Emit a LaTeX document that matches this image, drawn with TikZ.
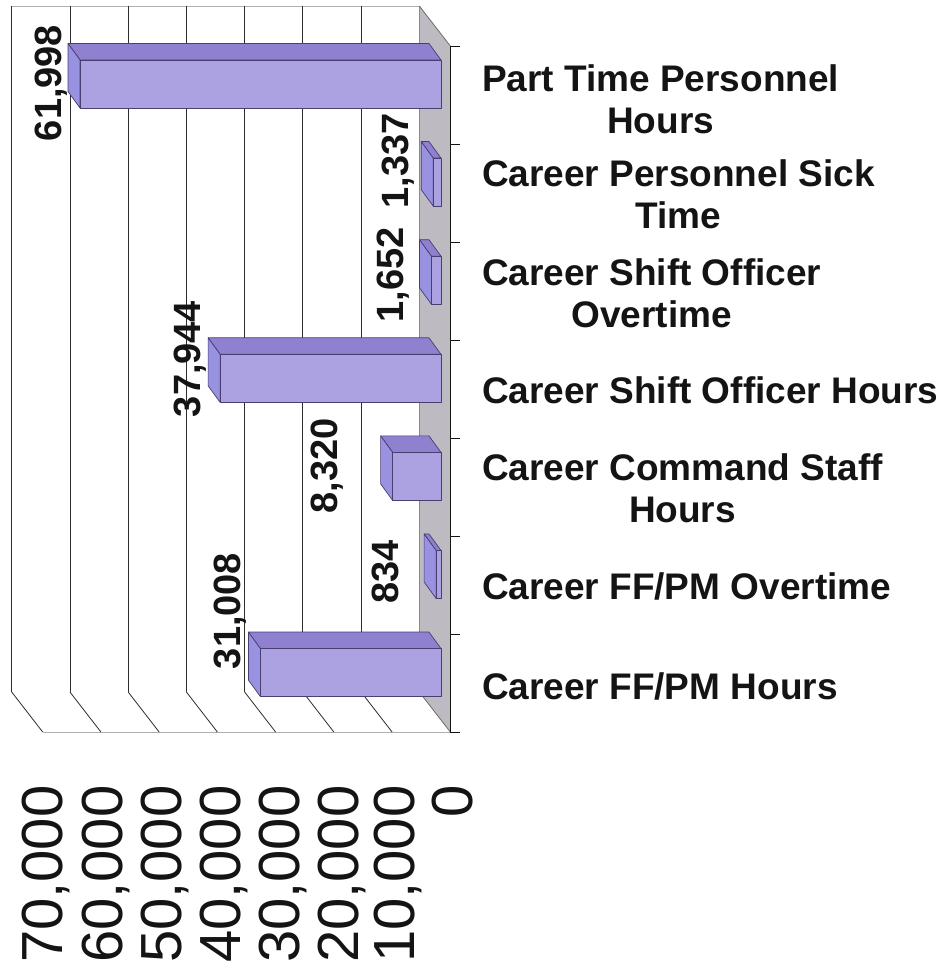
\documentclass[tikz,border=0pt]{standalone}
\usepackage{fontspec}
\setmainfont{Liberation Sans}
\begin{document}
\begin{tikzpicture}[x=1pt,y=1pt,
  gridline/.style={draw=gridColor,line width=0.8pt,line join=round},
  walledge/.style={draw=edgeColor,line width=0.8pt,line join=round},
  barfront/.style={draw=barLine,line width=0.7pt,line join=round,fill=frontColor},
  bartop/.style={draw=barLine,line width=0.7pt,line join=round,fill=topColor},
  barend/.style={draw=barLine,line width=0.7pt,line join=round,fill=endColor},
  vallabel/.style={text=drawColor,rotate=90,anchor=base,inner sep=0pt,outer sep=0pt,font=\fontsize{38}{38}\selectfont\bfseries},
  ticklabel/.style={text=drawColor,rotate=90,anchor=base east,inner sep=0pt,outer sep=0pt,font=\fontsize{58}{58}\selectfont},
  catlabel/.style={text=drawColor,anchor=west,align=center,inner sep=0pt,outer sep=0pt,font=\fontsize{37}{42}\selectfont\bfseries}]
\definecolor{fillColor}{RGB}{255,255,255}
\definecolor{drawColor}{RGB}{20,20,20}
\definecolor{gridColor}{RGB}{45,45,45}
\definecolor{edgeColor}{RGB}{175,175,178}
\definecolor{floorColor}{RGB}{190,186,193}
\definecolor{frontColor}{RGB}{172,162,226}
\definecolor{topColor}{RGB}{143,128,208}
\definecolor{endColor}{RGB}{152,146,224}
\definecolor{barLine}{RGB}{72,62,112}
\path[use as bounding box,fill=fillColor] (0,0) rectangle (951,972);
\begin{scope}
% back wall
\path[fill=fillColor] ( 11.69,280.00) rectangle (419.30,966.00);
\path[walledge] ( 11.69,966.00) -- (419.30,966.00);
\path[walledge] ( 11.69,280.00) -- (419.30,280.00);

\path[gridline] ( 11.69,280.00) -- ( 11.69,966.00);

\path[gridline] ( 69.92,280.00) -- ( 69.92,966.00);

\path[gridline] (128.15,280.00) -- (128.15,966.00);

\path[gridline] (186.38,280.00) -- (186.38,966.00);

\path[gridline] (244.61,280.00) -- (244.61,966.00);

\path[gridline] (302.84,280.00) -- (302.84,966.00);

\path[gridline] (361.07,280.00) -- (361.07,966.00);

\path[gridline] (419.30,280.00) -- (419.30,966.00);
\end{scope}
\begin{scope}
% floor
\path[fill=floorColor] (419.30,966.00) -- (450.30,926.00) -- (450.30,240.00) -- (419.30,280.00) -- cycle;
\path[draw=gridColor!70,line width=0.8pt] (419.30,966.00) -- (450.30,926.00);
\path[draw=gridColor!70,line width=0.8pt] (419.30,280.00) -- (450.30,240.00);

% side wall
\path[fill=fillColor] ( 11.69,280.00) -- ( 42.69,240.00) -- (419.30,240.00) -- (419.30,280.00) -- cycle;
\path[walledge] ( 42.69,240.00) -- (450.30,240.00);

\path[gridline] ( 11.69,280.00) -- ( 42.69,240.00);

\path[gridline] ( 69.92,280.00) -- (100.92,240.00);

\path[gridline] (128.15,280.00) -- (159.15,240.00);

\path[gridline] (186.38,280.00) -- (217.38,240.00);

\path[gridline] (244.61,280.00) -- (275.61,240.00);

\path[gridline] (302.84,280.00) -- (333.84,240.00);

\path[gridline] (361.07,280.00) -- (392.07,240.00);
\end{scope}
\begin{scope}
% bars
\path[bartop] ( 80.00,912.00) -- (441.00,912.00) -- (429.00,928.50) -- ( 68.00,928.50) -- cycle;
\path[barend] ( 80.00,912.00) -- ( 68.00,928.50) -- ( 68.00,880.50) -- ( 80.00,864.00) -- cycle;
\path[barfront] ( 80.00,864.00) rectangle (441.00,912.00);

\path[bartop] (433.20,813.90) -- (441.00,813.90) -- (429.00,830.40) -- (421.20,830.40) -- cycle;
\path[barend] (433.20,813.90) -- (421.20,830.40) -- (421.20,782.40) -- (433.20,765.90) -- cycle;
\path[barfront] (433.20,765.90) rectangle (441.00,813.90);

\path[bartop] (431.40,715.80) -- (441.00,715.80) -- (429.00,732.30) -- (419.40,732.30) -- cycle;
\path[barend] (431.40,715.80) -- (419.40,732.30) -- (419.40,684.30) -- (431.40,667.80) -- cycle;
\path[barfront] (431.40,667.80) rectangle (441.00,715.80);

\path[bartop] (220.10,617.70) -- (441.00,617.70) -- (429.00,634.20) -- (208.10,634.20) -- cycle;
\path[barend] (220.10,617.70) -- (208.10,634.20) -- (208.10,586.20) -- (220.10,569.70) -- cycle;
\path[barfront] (220.10,569.70) rectangle (441.00,617.70);

\path[bartop] (392.60,519.60) -- (441.00,519.60) -- (429.00,536.10) -- (380.60,536.10) -- cycle;
\path[barend] (392.60,519.60) -- (380.60,536.10) -- (380.60,488.10) -- (392.60,471.60) -- cycle;
\path[barfront] (392.60,471.60) rectangle (441.00,519.60);

\path[bartop] (436.10,421.50) -- (441.00,421.50) -- (429.00,438.00) -- (424.10,438.00) -- cycle;
\path[barend] (436.10,421.50) -- (424.10,438.00) -- (424.10,390.00) -- (436.10,373.50) -- cycle;
\path[barfront] (436.10,373.50) rectangle (441.00,421.50);

\path[bartop] (260.40,323.40) -- (441.00,323.40) -- (429.00,339.90) -- (248.40,339.90) -- cycle;
\path[barend] (260.40,323.40) -- (248.40,339.90) -- (248.40,291.90) -- (260.40,275.40) -- cycle;
\path[barfront] (260.40,275.40) rectangle (441.00,323.40);
\end{scope}
\begin{scope}
% category axis
\path[draw=drawColor,line width=1.6pt] (450.50,926.00) -- (450.50,239.00);

\path[draw=drawColor,line width=0.8pt] (450.50,926.00) -- (459.50,926.00);

\path[draw=drawColor,line width=0.8pt] (450.50,827.90) -- (459.50,827.90);

\path[draw=drawColor,line width=0.8pt] (450.50,729.80) -- (459.50,729.80);

\path[draw=drawColor,line width=0.8pt] (450.50,631.70) -- (459.50,631.70);

\path[draw=drawColor,line width=0.8pt] (450.50,533.60) -- (459.50,533.60);

\path[draw=drawColor,line width=0.8pt] (450.50,435.50) -- (459.50,435.50);

\path[draw=drawColor,line width=0.8pt] (450.50,337.40) -- (459.50,337.40);

\path[draw=drawColor,line width=0.8pt] (450.50,239.30) -- (459.50,239.30);
\end{scope}
\begin{scope}
\node[vallabel] (val1) at ( 61.70,889.00) {61,998};

\node[vallabel] (val2) at (408.00,811.00) {1,337};

\node[vallabel] (val3) at (403.00,697.00) {1,652};

\node[vallabel] (val4) at (200.00,613.00) {37,944};

\node[vallabel] (val5) at (337.00,506.00) {8,320};

\node[vallabel] (val6) at (398.00,400.00) {834};

\node[vallabel] (val7) at (240.00,361.00) {31,008};
\end{scope}
\begin{scope}
\node[ticklabel] (tick70) at ( 62.50,186.50) {70,000};

\node[ticklabel] (tick60) at (122.00,186.50) {60,000};

\node[ticklabel] (tick50) at (181.00,186.50) {50,000};

\node[ticklabel] (tick40) at (240.00,186.50) {40,000};

\node[ticklabel] (tick30) at (299.00,186.50) {30,000};

\node[ticklabel] (tick20) at (358.00,186.50) {20,000};

\node[ticklabel] (tick10) at (414.00,186.50) {10,000};

\node[ticklabel] (tick0) at (472.00,186.50) {0};
\end{scope}
\begin{scope}
\node[catlabel] (cat1) at (482.00,873.00) {Part Time Personnel\\Hours};

\node[catlabel] (cat2) at (482.00,778.00) {Career Personnel Sick\\Time};

\node[catlabel] (cat3) at (482.00,679.00) {Career Shift Officer\\Overtime};

\node[catlabel] (cat4) at (482.00,582.00) {Career Shift Officer Hours};

\node[catlabel] (cat5) at (482.00,484.00) {Career Command Staff\\Hours};

\node[catlabel] (cat6) at (482.00,386.00) {Career FF/PM Overtime};

\node[catlabel] (cat7) at (482.00,286.00) {Career FF/PM Hours};
\end{scope}
\end{tikzpicture}
\end{document}
